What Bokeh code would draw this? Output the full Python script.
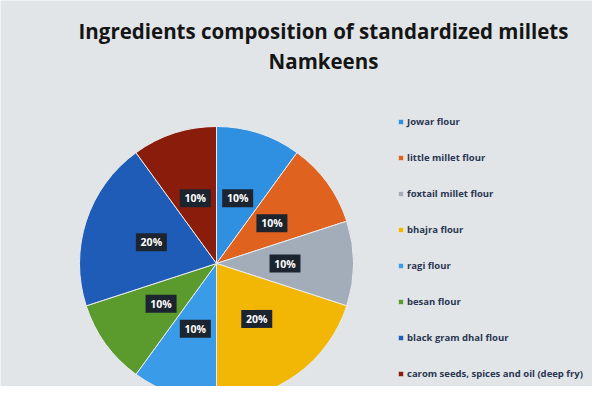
import numpy as np
from bokeh.plotting import figure
from bokeh.models import ColumnDataSource, Legend, LegendItem
from bokeh.core.properties import value
from bokeh.embed import file_html
from bokeh.resources import INLINE

title_lines = ["Ingredients composition of standardized millets", "Namkeens"]
ingredients = ["Jowar flour", "little millet flour", "foxtail millet flour", "bhajra flour",
               "ragi flour", "besan flour", "black gram dhal flour",
               "carom seeds, spices and oil (deep fry)"]
shares = [10, 10, 10, 20, 10, 10, 20, 10]
colors = ["#2f8fe0", "#e0621f", "#a3adb9", "#f2b705", "#3a9be8", "#5b9a2c", "#1f5cb8", "#8a1c0c"]

W, H = 592, 386
cx, cy, R = 216, 123, 137

vals = np.array(shares, dtype=float)
frac = vals / vals.sum()
ends_cw = np.cumsum(frac) * 2 * np.pi
starts_cw = ends_cw - frac * 2 * np.pi
# clockwise from top
start_ang = np.pi / 2 - ends_cw
end_ang = np.pi / 2 - starts_cw
mid = (start_ang + end_ang) / 2
labels = [f"{int(v)}%" for v in vals]

src = ColumnDataSource(dict(start=start_ang, end=end_ang, color=colors, name=ingredients,
                            lx=cx + 0.5 * R * np.cos(mid), ly=cy + 0.5 * R * np.sin(mid),
                            lab=labels))

p = figure(width=W, height=H, x_range=(0, W), y_range=(0, H), output_backend="svg",
           toolbar_location=None, min_border=0)
p.axis.visible = False
p.grid.visible = False
p.outline_line_color = None
p.background_fill_color = "#e1e5e8"
p.border_fill_color = "#e1e5e8"

wedges = []
for i in range(len(ingredients)):
    r = p.wedge(x=cx, y=cy, radius=R, start_angle=start_ang[i], end_angle=end_ang[i],
                fill_color=colors[i], line_color="#e8ecef", line_width=1)
    wedges.append(r)

p.rect(x="lx", y="ly", width=31, height=18, width_units="screen", height_units="screen",
       source=src, fill_color="#1c2430", line_color=None)
p.text(x="lx", y="ly", text="lab", source=src, text_align="center", text_baseline="middle",
       text_color="white", text_font_size="10.5px", text_font_style="bold",
       text_font=value("Open Sans"))

p.text(x=[W / 2 + 27, W / 2 + 27], y=[H - 30, H - 60], text=title_lines,
       text_align="center", text_baseline="middle", text_color="#151515",
       text_font_size="20.5px", text_font_style="bold", text_font=value("Open Sans"))

legend = Legend(items=[LegendItem(label=ingredients[i], renderers=[wedges[i]]) for i in range(len(ingredients))],
                location=(397, 6), orientation="vertical", glyph_width=7, glyph_height=7,
                label_height=9, spacing=23, label_standoff=3, padding=0, margin=0,
                label_text_font_size="9.5px", label_text_font_style="bold",
                label_text_color="#2b3652", label_text_font="Open Sans",
                background_fill_alpha=0, border_line_color=None)
p.add_layout(legend, "center")

open("out.html", "w").write(file_html(p, INLINE))
